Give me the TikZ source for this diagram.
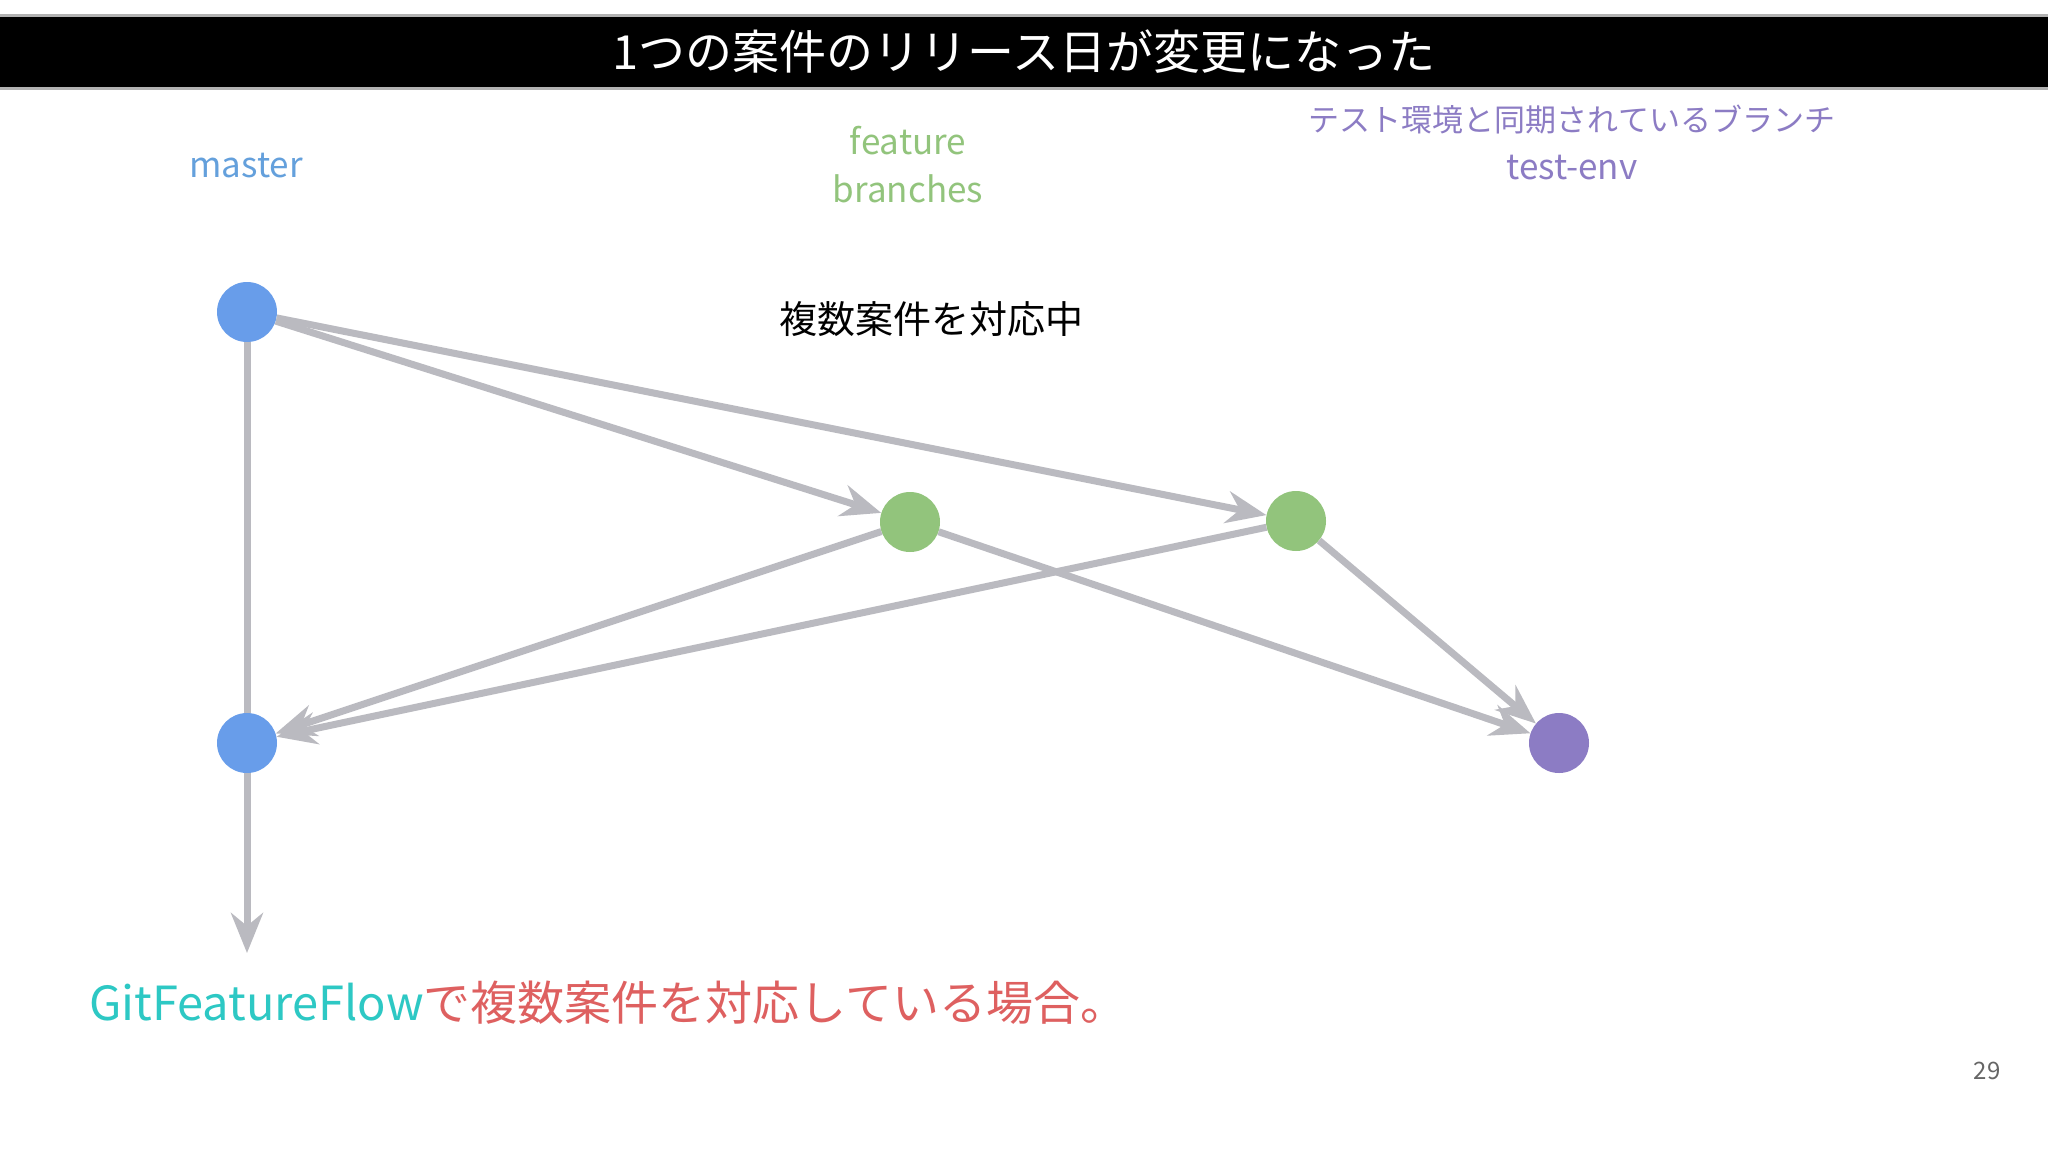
\documentclass[tikz,border=0pt]{standalone}
\usepackage{fontspec}
\setmainfont{Noto Sans CJK JP}
\usetikzlibrary{arrows.meta}
\definecolor{masterblue}{RGB}{104,157,234}
\definecolor{featuregreen}{RGB}{146,196,124}
\definecolor{testpurple}{RGB}{140,124,196}
\definecolor{labelblue}{RGB}{100,160,220}
\definecolor{flowgray}{RGB}{186,186,192}
\definecolor{flowteal}{RGB}{45,200,196}
\definecolor{caserred}{RGB}{222,96,96}
\newcommand{\commitsize}{60pt}
\newcommand{\jplabel}[1]{{\fontsize{31}{48}\selectfont #1}}
\tikzset{
    commit/.style={circle, inner sep=0pt, minimum size=\commitsize},
    mastercommit/.style={commit, fill=masterblue},
    featurecommit/.style={commit, fill=featuregreen},
    testcommit/.style={commit, fill=testpurple},
    branchlabel/.style={align=center, font=\fontsize{35}{48}\selectfont},
    flow/.style={draw=flowgray, line width=7pt, -{Stealth[length=40pt, width=32pt, inset=13pt]}},
    plainflow/.style={draw=flowgray, line width=7pt}
}

\begin{document}
\begin{tikzpicture}[x=1pt, y=-1pt]
    \useasboundingbox[fill=white] (0,0) rectangle (2048,1152);
    % title bar
    \fill[gray!60] (0,14) rectangle (2048,90);
    \fill[black] (0,17) rectangle (2048,87);
    \node[white, font=\fontsize{47}{50}\selectfont] (title) at (1024,52) {1つの案件のリリース日が変更になった};

    % branch names
    \node[branchlabel, labelblue] (lmaster) at (246,166) {master};
    \node[branchlabel, featuregreen] (lfeature) at (908,165) {feature\\branches};
    \node[branchlabel, testpurple] (ltest) at (1572,142) {\jplabel{テスト環境と同期されているブランチ}\\test-env};

    \node[font=\fontsize{38}{44}\selectfont] (note) at (931,319) {複数案件を対応中};

    % commits
    \node[mastercommit] (m0) at (247,312) {};
    \node[mastercommit] (m1) at (247,743) {};
    \node[featurecommit] (f1) at (910,522) {};
    \node[featurecommit] (f2) at (1296,521) {};
    \node[testcommit] (t1) at (1559,743) {};
    \coordinate (mend) at (247,953);

    \draw[plainflow] (m0) -- (m1);
    \draw[flow] (m0) -- (f1);
    \draw[flow] (m0) -- (f2);
    \draw[flow] (f1) -- (m1);
    \draw[flow] (f2) -- (m1);
    \draw[flow] (f1) -- (t1);
    \draw[flow] (f2) -- (t1);
    \draw[flow] (m1) -- (mend);

    % caption
    \node[anchor=west, font=\fontsize{47}{52}\selectfont, inner sep=0pt] (caption) at (89,1003)
        {\textcolor{flowteal}{GitFeatureFlow}\textcolor{caserred}{で複数案件を対応している場合。}};
    \node[gray!80!black, font=\fontsize{24}{28}\selectfont] (page) at (1987,1071) {29};
\end{tikzpicture}
\end{document}
